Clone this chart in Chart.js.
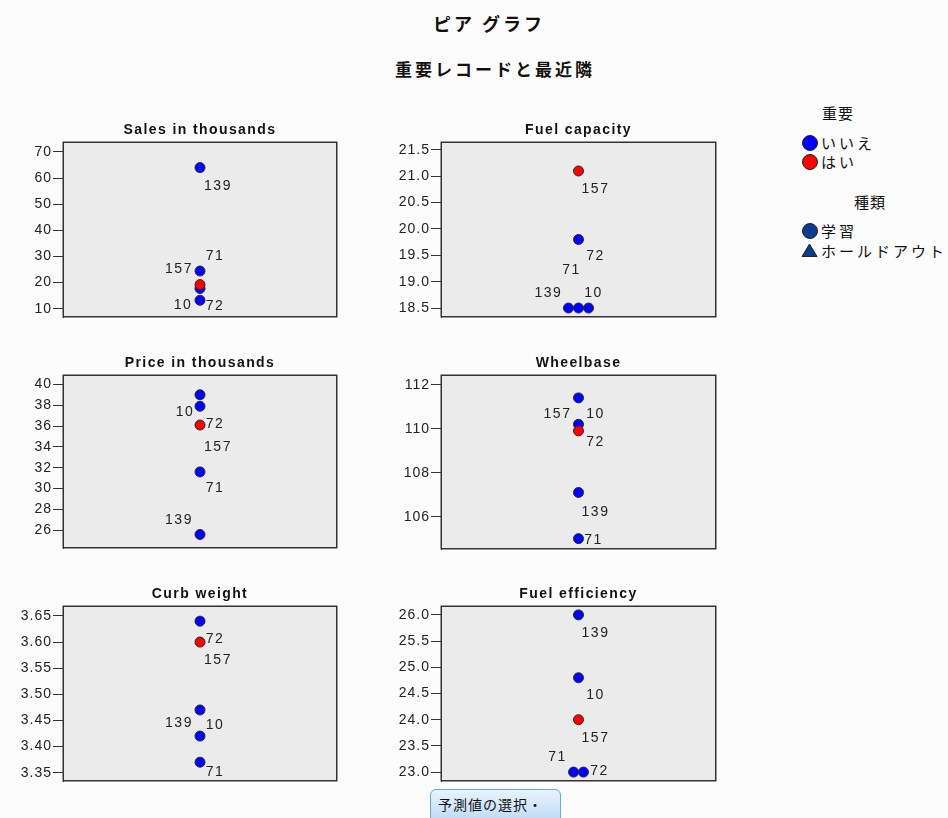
<!DOCTYPE html>
<html>
<head>
<meta charset="utf-8">
<script src="https://cdn.jsdelivr.net/npm/chart.js@4.4.0/dist/chart.umd.min.js"></script>
<style>
  body { margin: 0; width: 948px; height: 818px; overflow: hidden; position: relative;
         background: #fcfcfc; font-family: "Noto Sans CJK JP", sans-serif; color: #111; }
  canvas { position: absolute; }
  .abs { position: absolute; white-space: nowrap; }
  .center { transform: translate(-50%, -50%); }
  #title { left: 489px; top: 23px; font-size: 18px; font-weight: bold; letter-spacing: 3px; }
  #subtitle { left: 495px; top: 68px; font-size: 17px; font-weight: bold; letter-spacing: 3px; }
  .lg-head { font-size: 15px; letter-spacing: 1px; }
  .lg-item { font-size: 15px; letter-spacing: 3px; line-height: 18px; transform: translateY(-50%); }
  .dot { position: absolute; width: 14px; height: 14px; border-radius: 50%; border: 1px solid #222;
         transform: translate(-50%, -50%); }
  #pick { position: absolute; left: 430px; top: 789px; width: 131px; height: 36px; padding: 0 0 6px 7px;
          text-align: left; border: 1px solid #6aa6e2; border-radius: 6px; font-size: 14px; letter-spacing: 1px;
          font-family: "Noto Sans CJK JP", sans-serif; color: #111;
          background: linear-gradient(#e9f3fd, #b9d7f5); }
</style>
</head>
<body>
<div id="title" class="abs center">ピア グラフ</div>
<div id="subtitle" class="abs center">重要レコードと最近隣</div>

<div class="abs center lg-head" style="left:838px;top:112px">重要</div>
<div class="dot" style="left:810px;top:143px;background:#0000ff"></div>
<div class="abs lg-item" style="left:821px;top:143px">いいえ</div>
<div class="dot" style="left:810px;top:162px;background:#ff0000"></div>
<div class="abs lg-item" style="left:821px;top:162px">はい</div>
<div class="abs center lg-head" style="left:870px;top:201px">種類</div>
<div class="dot" style="left:810px;top:231px;background:#0d3b8e"></div>
<div class="abs lg-item" style="left:821px;top:231px">学習</div>
<svg class="abs" style="left:801px;top:243px" width="17" height="15"><polygon points="8.5,1 16,13.5 1,13.5" fill="#0d3b8e" stroke="#222" stroke-width="1"/></svg>
<div class="abs lg-item" style="left:821px;top:251px">ホールドアウト</div>

<button id="pick">予測値の選択・</button>

<script>
// record ids, in draw order (the focal record last so it sits on top)
const RECORDS = ['10', '71', '72', '139', '157'];
const IMPORTANT = [false, false, false, false, true];

const PANEL_TITLES = ['Sales in thousands', 'Fuel capacity', 'Price in thousands',
                      'Wheelbase', 'Curb weight', 'Fuel efficiency'];

// values per variable, same order as RECORDS
const SALES      = [17.7, 24.4, 13.2, 64.0, 19.2];
const FUEL_CAP   = [18.5, 18.5, 19.8, 18.5, 21.1];
const PRICE      = [39.0, 31.6, 37.9, 25.6, 36.1];
const WHEELBASE  = [111.4, 105.0, 110.2, 107.1, 109.9];
const CURB       = [3.42, 3.37, 3.64, 3.47, 3.60];
const FUEL_EFF   = [24.8, 23.0, 23.0, 26.0, 24.0];

// horizontal dodge for tied values
const FUEL_CAP_DODGE = [0.073, 0, 0, -0.073, 0];
const FUEL_EFF_DODGE = [0, -0.036, 0.036, 0, 0];

// tick labels
const SALES_TICKS     = [10, 20, 30, 40, 50, 60, 70];
const FUEL_CAP_TICKS  = [18.5, 19.0, 19.5, 20.0, 20.5, 21.0, 21.5];
const PRICE_TICKS     = [26, 28, 30, 32, 34, 36, 38, 40];
const WHEELBASE_TICKS = [106, 108, 110, 112];
const CURB_TICKS      = [3.35, 3.40, 3.45, 3.50, 3.55, 3.60, 3.65];
const FUEL_EFF_TICKS  = [23.0, 23.5, 24.0, 24.5, 25.0, 25.5, 26.0];

const AXIS_W = 63, TITLE_H = 24;
const FONT = '"Liberation Sans", Arial, sans-serif';

// label placement relative to each point (px), same order as RECORDS
const PANELS = [
  { title: PANEL_TITLES[0], values: SALES, ticks: SALES_TICKS, dec: 0, min: 6.8, max: 73.8,
    box: { x: 63, y: 142, w: 274, h: 175 },
    labelAt: [[-17, 17], [15, -15], [15, 6], [18, 19], [-21, -15]] },
  { title: PANEL_TITLES[1], values: FUEL_CAP, dodge: FUEL_CAP_DODGE, ticks: FUEL_CAP_TICKS, dec: 1, min: 18.33, max: 21.65,
    box: { x: 441, y: 142, w: 275, h: 175 },
    labelAt: [[5, -15], [-7, -38], [17, 17], [-20, -15], [17, 18]] },
  { title: PANEL_TITLES[2], values: PRICE, ticks: PRICE_TICKS, dec: 0, min: 24.3, max: 40.9,
    box: { x: 63, y: 375, w: 274, h: 173 },
    labelAt: [[-15, 17], [15, 16], [15, 18], [-21, -14], [18, 22]] },
  { title: PANEL_TITLES[3], values: WHEELBASE, ticks: WHEELBASE_TICKS, dec: 0, min: 104.53, max: 112.44,
    box: { x: 441, y: 375, w: 275, h: 174 },
    labelAt: [[17, 16], [15, 1], [17, 18], [17, 20], [-21, -17]] },
  { title: PANEL_TITLES[4], values: CURB, ticks: CURB_TICKS, dec: 2, min: 3.334, max: 3.669,
    box: { x: 63, y: 606, w: 274, h: 175 },
    labelAt: [[15, -11], [15, 10], [15, 18], [-21, 13], [18, 18]] },
  { title: PANEL_TITLES[5], values: FUEL_EFF, dodge: FUEL_EFF_DODGE, ticks: FUEL_EFF_TICKS, dec: 1, min: 22.83, max: 26.17,
    box: { x: 441, y: 606, w: 275, h: 175 },
    labelAt: [[17, 17], [-16, -15], [16, -1], [17, 18], [17, 18]] },
];

// panel background, frame, title and point labels
const panelDeco = {
  id: 'panelDeco',
  beforeDraw(chart) {
    const { ctx, chartArea: a } = chart;
    ctx.save();
    ctx.fillStyle = '#ebebeb';
    ctx.fillRect(a.left, a.top, a.right - a.left, a.bottom - a.top);
    ctx.restore();
    ctx.letterSpacing = '1px';
  },
  afterDraw(chart, args, opts) {
    const { ctx, chartArea: a } = chart;
    ctx.save();
    ctx.strokeStyle = '#333';
    ctx.lineWidth = 1.5;
    ctx.strokeRect(a.left + 0.25, a.top + 0.25, a.right - a.left - 0.5, a.bottom - a.top - 0.5);

    ctx.fillStyle = '#111';
    ctx.font = 'bold 14px ' + FONT;
    ctx.letterSpacing = '1.4px';
    ctx.textAlign = 'center';
    ctx.textBaseline = 'middle';
    ctx.fillText(opts.title, (a.left + a.right) / 2, a.top - 12);

    ctx.fillStyle = '#222';
    ctx.font = '14px ' + FONT;
    ctx.letterSpacing = '1.5px';
    const pts = chart.getDatasetMeta(0).data;
    pts.forEach((pt, i) => {
      const [dx, dy] = opts.labelAt[i];
      ctx.fillText(RECORDS[i], pt.x + dx, pt.y + dy);
    });
    ctx.restore();
  }
};

function makePanel(p) {
  const cv = document.createElement('canvas');
  cv.width = AXIS_W + p.box.w + 1;
  cv.height = TITLE_H + p.box.h + 1;
  cv.style.left = (p.box.x - AXIS_W) + 'px';
  cv.style.top = (p.box.y - TITLE_H) + 'px';
  document.body.appendChild(cv);

  new Chart(cv, {
    type: 'scatter',
    data: {
      datasets: [{
        data: p.values.map((v, i) => ({ x: p.dodge ? p.dodge[i] : 0, y: v })),
        pointRadius: 5,
        pointHoverRadius: 5,
        pointBackgroundColor: IMPORTANT.map(f => f ? '#ff0000' : '#0000ff'),
        pointBorderColor: '#2a2a2a',
        pointBorderWidth: 1,
        clip: false,
      }]
    },
    options: {
      responsive: false,
      animation: false,
      events: [],
      layout: { autoPadding: false, padding: { top: TITLE_H, right: 1, bottom: 1, left: 0 } },
      plugins: {
        legend: { display: false },
        tooltip: { enabled: false },
        panelDeco: { title: p.title, labelAt: p.labelAt },
      },
      scales: {
        x: { type: 'linear', display: false, min: -1, max: 1 },
        y: {
          min: p.min, max: p.max,
          afterFit: s => { s.width = AXIS_W; s.paddingTop = 0; s.paddingBottom = 0; },
          afterBuildTicks: s => { s.ticks = p.ticks.map(v => ({ value: v })); },
          ticks: {
            callback: v => Number(v).toFixed(p.dec),
            color: '#222', padding: 1,
            font: { family: FONT, size: 14 },
          },
          grid: { drawOnChartArea: false, tickLength: 10, color: '#333', tickWidth: 1 },
          border: { display: true, color: '#333' },
        }
      }
    },
    plugins: [panelDeco]
  });
}

PANELS.forEach(makePanel);
</script>
</body>
</html>
